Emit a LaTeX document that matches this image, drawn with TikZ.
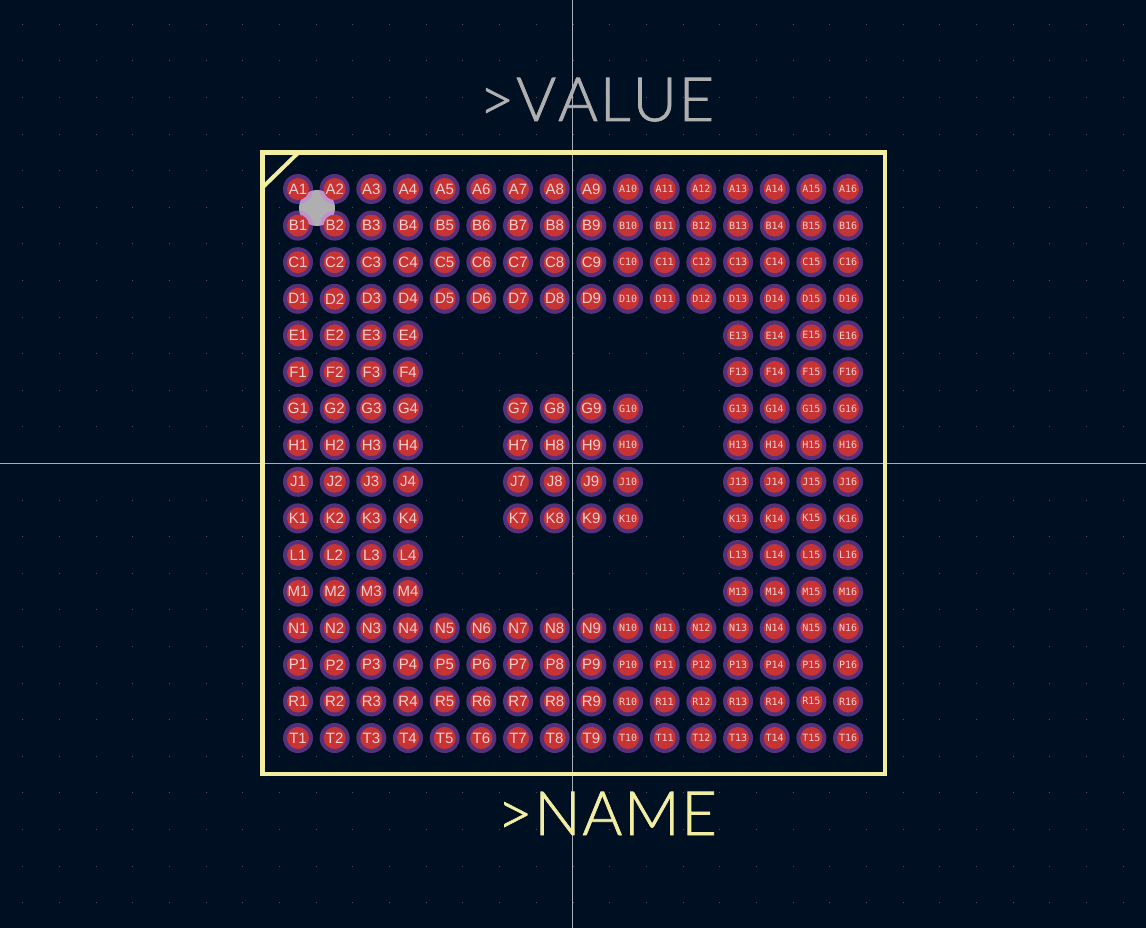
\documentclass[tikz,border=0pt]{standalone}
\usepackage{fontspec}
\setmainfont{Liberation Sans}
\newfontfamily\padsans{Liberation Sans}
\newfontfamily\padmono{DejaVu Sans Mono}
\newfontfamily\reffont[UprightFont=* Light,UprightFeatures={FakeBold=1.2},LetterSpace=3,Kerning=Off]{Lato}
\definecolor{boardbg}{HTML}{001023}
\definecolor{griddot}{HTML}{46525E}
\definecolor{crossline}{HTML}{A8AEB4}
\definecolor{silk}{HTML}{F2EDA1}
\definecolor{fab}{HTML}{AFAFAF}
\definecolor{copper}{HTML}{C83434}
\definecolor{mask}{HTML}{D864FF}
\definecolor{padtext}{HTML}{F4CFCF}

\begin{document}
\begin{tikzpicture}[
  x=1pt,y=-1pt,
  pad/.style={circle,fill=copper,minimum size=22pt,inner sep=0pt,text=padtext},
  reftext/.style={anchor=base,inner sep=0pt,font=\reffont\fontsize{61}{61}\selectfont}
]
  \useasboundingbox (0,0) rectangle (1146,928);
  \fill[boardbg] (0,0) rectangle (1146,928);

  \foreach \i in {-15,...,15}
    \foreach \j in {-12,...,12}
      \fill[griddot] ({573+36.67*\i-.5},{463.5+36.6*\j-.5}) rectangle +(1,1);

  \draw[crossline,line width=.8pt] (572.5,0) -- (572.5,928);
  \draw[crossline,line width=.8pt] (0,463) -- (1146,463);

  \fill[fab] (317,208) circle (18);

  \foreach \row/\idx/\pins in {
    A/0/{1,...,16},B/1/{1,...,16},C/2/{1,...,16},D/3/{1,...,16},
    E/4/{1,2,3,4,13,14,15,16},F/5/{1,2,3,4,13,14,15,16},
    G/6/{1,2,3,4,7,8,9,10,13,14,15,16},H/7/{1,2,3,4,7,8,9,10,13,14,15,16},
    J/8/{1,2,3,4,7,8,9,10,13,14,15,16},K/9/{1,2,3,4,7,8,9,10,13,14,15,16},
    L/10/{1,2,3,4,13,14,15,16},M/11/{1,2,3,4,13,14,15,16},
    N/12/{1,...,16},P/13/{1,...,16},R/14/{1,...,16},T/15/{1,...,16}}
    \foreach \pin in \pins {
      \fill[mask,fill opacity=.4] ({298+36.67*(\pin-1)},{189+36.6*\idx}) circle (15);
      \node[pad,font=\ifnum\pin>9 \padmono\fontsize{10}{10}\selectfont\else\padsans\fontsize{15}{15}\selectfont\fi]
        (\row\pin) at ({298+36.67*(\pin-1)},{189+36.6*\idx}) {\row\pin};
    }

  % outline and pin one corner
  \draw[silk,line width=4.6pt] (262.5,152.5) rectangle (885,774);
  \draw[silk,line width=4pt] (298,153) -- (263,187);

  \node[reftext,text=fab] (value) at (596.5,121) {>VALUE};
  \node[reftext,text=silk] (name) at (607,835) {>NAME};
\end{tikzpicture}
\end{document}
